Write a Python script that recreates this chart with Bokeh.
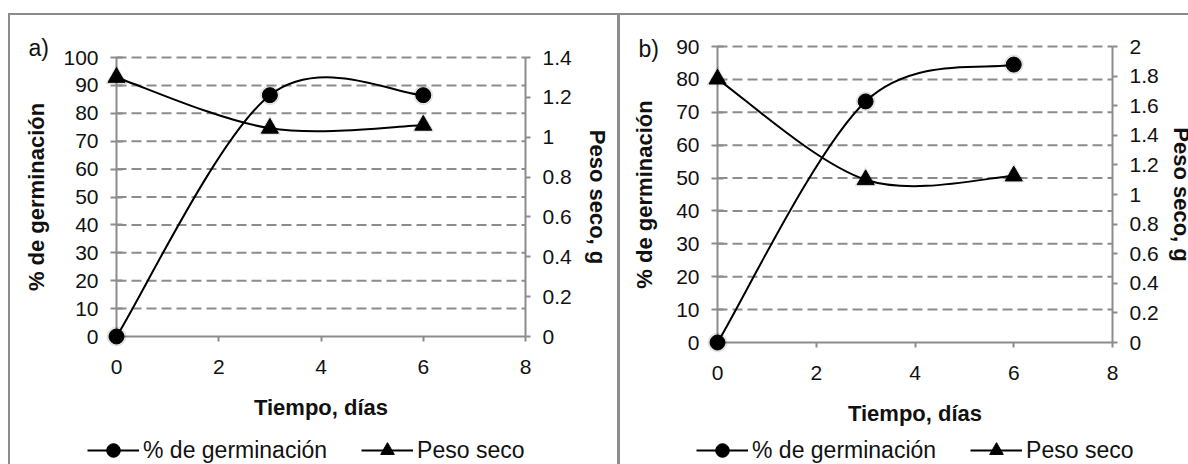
from bokeh.plotting import figure
from bokeh.models import (Range1d, LinearAxis, FixedTicker, Legend, LegendItem, Label)
from bokeh.layouts import row
from bokeh.embed import file_html
from bokeh.resources import INLINE

# ---------------- data ----------------
dias = [0, 3, 6]
germ_a = [0, 86.5, 86.5]
peso_a = [1.30, 1.045, 1.06]
germ_b = [0, 73.3, 84.5]
peso_b = [1.78, 1.10, 1.125]

x_ticks = [0, 2, 4, 6, 8]
x_labels = ["0", "2", "4", "6", "8"]
ya_ticks = [0, 10, 20, 30, 40, 50, 60, 70, 80, 90, 100]
ra_ticks = [0, 0.2, 0.4, 0.6, 0.8, 1, 1.2, 1.4]
ra_labels = ["0", "0.2", "0.4", "0.6", "0.8", "1", "1.2", "1.4"]
yb_ticks = [0, 10, 20, 30, 40, 50, 60, 70, 80, 90]
rb_ticks = [0, 0.2, 0.4, 0.6, 0.8, 1, 1.2, 1.4, 1.6, 1.8, 2]
rb_labels = ["0", "0.2", "0.4", "0.6", "0.8", "1", "1.2", "1.4", "1.6", "1.8", "2"]

x_title = "Tiempo, días"
yl_title = "% de germinación"
yr_title = "Peso seco, g"
ser1 = "% de germinación"
ser2 = "Peso seco"

# ---------------- style ----------------
H = 464
FONT = "Liberation Sans"
GRAY = "#8c8c8c"
INK = "#111111"


def smooth(xs, ys):
    n = len(xs)
    s = dict(x0=[], y0=[], x1=[], y1=[], cx0=[], cy0=[], cx1=[], cy1=[])
    for i in range(n - 1):
        a = max(i - 1, 0)
        d = min(i + 2, n - 1)
        s["x0"].append(xs[i]); s["y0"].append(ys[i])
        s["x1"].append(xs[i + 1]); s["y1"].append(ys[i + 1])
        s["cx0"].append(xs[i] + (xs[i + 1] - xs[a]) / 6)
        s["cy0"].append(ys[i] + (ys[i + 1] - ys[a]) / 6)
        s["cx1"].append(xs[i + 1] - (xs[d] - xs[i]) / 6)
        s["cy1"].append(ys[i + 1] - (ys[d] - ys[i]) / 6)
    return s


def span(v0, v1, p0, p1, total):
    # range over the whole canvas so that v0 sits at pixel p0 and v1 at p1
    k = (v1 - v0) / (p1 - p0)
    return Range1d(v0 - p0 * k, v1 + (total - p1) * k)


def style_axis(ax):
    ax.axis_line_color = GRAY
    ax.axis_line_width = 2
    ax.major_tick_line_color = GRAY
    ax.major_tick_line_width = 2
    ax.minor_tick_line_color = None
    ax.major_label_text_font = FONT
    ax.major_label_text_font_size = "21px"
    ax.major_label_text_color = INK
    ax.axis_label_text_font = FONT
    ax.axis_label_text_font_size = "22px"
    ax.axis_label_text_font_style = "bold"
    ax.axis_label_text_color = INK


def panel(width, px, germ, peso, y_ticks, r_ticks, r_labels, tag, tag_xy, leg_x,
          left_standoff, right_standoff):
    xl, xr, yt, yb = px
    ymax = y_ticks[-1]
    rmax = r_ticks[-1]
    p = figure(width=width, height=H, output_backend="svg", toolbar_location=None,
               x_range=span(x_ticks[0], x_ticks[-1], xl, xr, width),
               y_range=span(y_ticks[0], ymax, H - yb, H - yt, H),
               min_border=0, min_border_left=0, min_border_right=0,
               min_border_top=0, min_border_bottom=0)
    p.extra_y_ranges = {"peso": span(r_ticks[0], rmax, H - yb, H - yt, H)}
    p.outline_line_color = None
    p.background_fill_color = None
    p.border_fill_color = None
    p.xgrid.visible = False
    p.ygrid.visible = False

    xa = p.xaxis[0]
    xa.ticker = FixedTicker(ticks=x_ticks)
    xa.major_label_overrides = dict(zip(x_ticks, x_labels))
    xa.fixed_location = y_ticks[0]
    xa.bounds = (x_ticks[0], x_ticks[-1])
    xa.axis_label = x_title
    style_axis(xa)
    xa.major_tick_in = 0
    xa.major_tick_out = 5
    xa.major_label_standoff = 18
    xa.axis_label_standoff = 18

    ya = p.yaxis[0]
    ya.ticker = FixedTicker(ticks=y_ticks)
    ya.fixed_location = x_ticks[0]
    ya.bounds = (y_ticks[0], ymax)
    ya.axis_label = yl_title
    style_axis(ya)
    ya.major_tick_in = 6
    ya.major_tick_out = 6
    ya.major_label_standoff = 12
    ya.axis_label_standoff = left_standoff

    ra = LinearAxis(y_range_name="peso", ticker=FixedTicker(ticks=r_ticks),
                    bounds=(r_ticks[0], rmax), axis_label=yr_title,
                    fixed_location=x_ticks[-1])
    ra.major_label_overrides = dict(zip(r_ticks, r_labels))
    style_axis(ra)
    ra.major_tick_in = 0
    ra.major_tick_out = 5
    ra.major_label_standoff = 12
    ra.axis_label_standoff = right_standoff
    p.add_layout(ra, "right")

    # dashed gridlines from the left ticks
    gy = y_ticks[1:]
    p.segment(x0=[x_ticks[0]] * len(gy), x1=[x_ticks[-1]] * len(gy), y0=gy, y1=gy,
              line_color=GRAY, line_width=2, line_dash="10 5")

    sg = smooth(dias, germ)
    sp = smooth(dias, peso)
    p.bezier(line_color="black", line_width=2, **sg)
    p.bezier(line_color="black", line_width=2, y_range_name="peso", **sp)

    p.scatter(dias, germ, marker="circle", size=19, color="black", alpha=0.08,
              level="overlay")
    p.scatter(dias, peso, marker="triangle", size=21, color="black", alpha=0.08,
              y_range_name="peso", level="overlay")
    c = p.scatter(dias, germ, marker="circle", size=15, color="black", level="overlay")
    t = p.scatter(dias, peso, marker="triangle", size=17, color="black",
                  y_range_name="peso", level="overlay")

    # single-point lines: invisible on the plot, they give the legend its line
    l1 = p.line(x=dias[:1], y=germ[:1], line_color="black", line_width=2)
    l2 = p.line(x=dias[:1], y=peso[:1], line_color="black", line_width=2,
                y_range_name="peso")
    leg = Legend(items=[LegendItem(label=ser1, renderers=[l1, c]),
                        LegendItem(label=ser2, renderers=[l2, t])],
                 orientation="horizontal", location=(leg_x, H - 467),
                 border_line_alpha=0, background_fill_alpha=0, padding=0, margin=0,
                 spacing=34, label_standoff=4, glyph_width=52, glyph_height=34,
                 label_text_font=FONT, label_text_font_size="23px",
                 label_text_color=INK)
    p.add_layout(leg)

    p.add_layout(Label(x=tag_xy[0], y=H - tag_xy[1], x_units="screen", y_units="screen",
                       text=tag, text_font=FONT, text_font_size="23px",
                       text_color=INK, text_baseline="alphabetic"))
    return p


pa = panel(618, (116, 525, 57, 336), germ_a, peso_a, ya_ticks, ra_ticks, ra_labels,
           "a)", (28, 47), 87, 11, 10)
pb = panel(570, (99, 494, 46, 342), germ_b, peso_b, yb_ticks, rb_ticks, rb_labels,
           "b)", (20, 48), 78, 16, 7)

G = "linear-gradient(#8c8c8c,#8c8c8c)"
frame_css = ", ".join([
    G + " 8px 13px / 1180px 2px no-repeat",
    G + " 8px 13px / 2px 460px no-repeat",
    G + " 617px 13px / 3px 460px no-repeat",
])
layout = row(pa, pb, styles={"background": frame_css + ", #ffffff"})
open("out.html", "w").write(file_html(layout, INLINE))
